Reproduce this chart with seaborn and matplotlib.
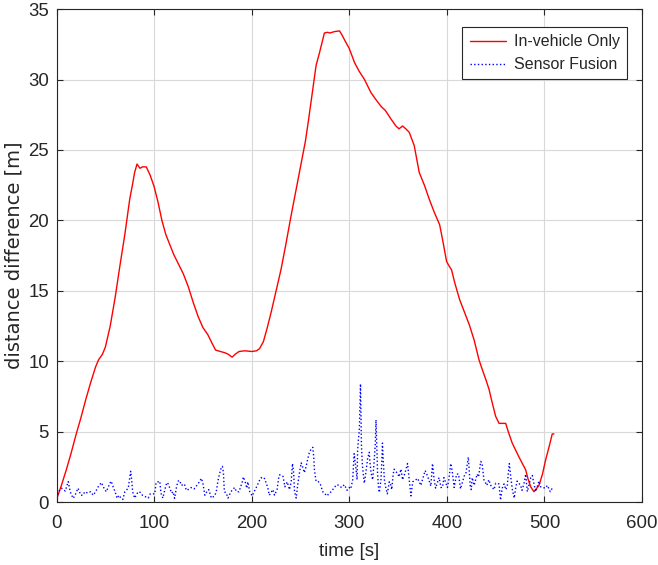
import numpy as np
import pandas as pd
import matplotlib
matplotlib.use("Agg")
import matplotlib.pyplot as plt
import seaborn as sns

# ---- data ----
red_t = [0, 5, 10, 15, 20, 25, 30, 35, 40, 43, 47, 50, 55, 60, 65, 70, 75, 78, 80, 82.5,
         85.5, 88, 92, 96, 100, 104, 108, 112, 116, 120, 125, 130, 135, 140, 145, 150, 155,
         160, 163, 168, 173, 176, 180, 183, 187, 193, 200, 205, 208, 212, 216, 220, 225, 230,
         235, 240, 245, 250, 255, 258, 262, 266, 269.5, 272, 274.5, 277.6, 280, 285, 290, 293,
         296, 300, 305.4, 310, 315.6, 322, 327, 332.5, 337, 342.7, 347.8, 351, 354.6, 358,
         361.5, 366.6, 371.7, 377, 382, 387, 392.6, 396, 399.7, 402, 404.8, 408, 413, 418,
         423, 428, 433, 436.4, 440, 443.3, 446, 450, 453.5, 460.3, 463, 467, 474, 480.8, 483,
         485.9, 489.3, 494.4, 498, 501.2, 505, 508, 509.7]
red_y = [0.2, 1.2, 2.3, 3.5, 4.8, 6.0, 7.3, 8.5, 9.6, 10.1, 10.5, 11.0, 12.5, 14.5, 16.8, 19.0,
         21.5, 22.6, 23.4, 24.0, 23.7, 23.8, 23.8, 23.2, 22.4, 21.3, 20.0, 19.0, 18.3, 17.6,
         16.9, 16.2, 15.3, 14.2, 13.2, 12.4, 11.9, 11.2, 10.8, 10.7, 10.6, 10.5, 10.3, 10.5,
         10.7, 10.75, 10.7, 10.75, 10.9, 11.4, 12.4, 13.5, 15.0, 16.5, 18.3, 20.2, 22.0, 23.8,
         25.6, 27.0, 29.0, 31.0, 31.9, 32.6, 33.3, 33.35, 33.3, 33.4, 33.45, 33.1, 32.7, 32.2,
         31.2, 30.6, 30.0, 29.1, 28.6, 28.1, 27.8, 27.2, 26.7, 26.5, 26.7, 26.5, 26.25, 25.3,
         23.4, 22.5, 21.5, 20.6, 19.7, 18.5, 17.1, 16.8, 16.5, 15.6, 14.4, 13.5, 12.6, 11.5,
         10.1, 9.4, 8.7, 8.0, 7.2, 6.1, 5.6, 5.6, 5.0, 4.2, 3.2, 2.3, 1.7, 1.1, 0.75, 1.2, 2.0,
         3.0, 4.0, 4.85, 4.85]

blue_t = [0, 2, 5, 9, 12, 14, 17, 19, 22, 25, 27, 29, 32, 35, 37.6, 40, 42.7, 46, 49, 51,
          54.7, 56, 58, 60, 62, 64, 66, 68, 70, 73.5, 76, 77, 78, 80, 83.7, 86, 88, 94, 96,
          100.7, 102, 105.8, 107, 109, 111, 113, 114.5, 118, 119.5, 121, 123, 124.6, 126, 128,
          131, 133, 136.5, 138, 141, 145, 148.5, 150, 152, 154, 156, 158.7, 162, 163.7, 165.5,
          167, 169, 170, 171, 171.5, 172, 174, 175.7, 177, 178.7, 182.5, 184.5, 187, 190.4,
          191.5, 193.8, 195, 196, 198, 200.5, 202.5, 204.7, 208, 209.8, 212, 213, 215, 216.6,
          218, 221.7, 223.4, 226, 227.6, 228.6, 232, 233, 234, 236.4, 238.7, 240.5, 241.8, 243,
          243.9, 245.6, 247.2, 249, 250.7, 252, 254, 255.8, 257.5, 259, 261, 262.6, 263.6,
          264.3, 266, 268, 270.5, 272.8, 274.5, 277.2, 279, 281.4, 284.8, 287, 289.5, 292, 295,
          297.7, 300, 301.5, 303.5, 304.5, 305, 307, 308, 308.5, 309.3, 310.3, 311.5, 312.5,
          313.5, 315.4, 317, 318.8, 320.5, 321, 322.3, 324, 324.6, 325.6, 326.7, 327.4, 328.2,
          329, 330, 330.8, 332.5, 333.5, 334, 334.8, 336, 337.5, 339, 341, 342.7, 343.5, 345,
          346, 347.5, 349.5, 351, 353, 354.6, 357, 359.7, 361.4, 363.2, 365, 368.3, 370, 373.4,
          375, 377.8, 380, 381.5, 383.6, 385.3, 387, 388.5, 392, 394, 395.5, 397, 400.6, 402,
          404, 405.5, 407.5, 410, 412, 414, 416, 417.7, 419.5, 421, 422, 424, 425, 426, 428,
          431, 432.5, 434.7, 436, 438, 439.5, 441, 443, 445, 448.4, 450, 453.5, 455, 456.8,
          458.6, 460.5, 462, 463, 464, 465.6, 467, 469, 470.5, 472, 475.6, 477, 479, 480.8,
          482.5, 486, 487.6, 489.3, 491, 494.4, 496, 501, 503, 506, 508]
blue_y = [0.3, 0.75, 1.0, 0.8, 1.47, 0.75, 0.28, 0.5, 1.0, 0.5, 0.5, 0.75, 0.65, 0.75, 0.5,
          0.75, 1.1, 1.4, 0.95, 0.75, 1.35, 1.5, 1.1, 0.75, 0.28, 0.5, 0.3, 0.2, 0.75, 1.0, 2.2,
          1.6, 0.75, 0.3, 0.75, 0.7, 0.5, 0.3, 0.6, 0.6, 1.4, 1.5, 0.65, 0.3, 0.9, 1.4, 1.3,
          0.65, 0.75, 0.28, 1.1, 1.5, 1.55, 1.2, 1.3, 0.85, 0.95, 1.05, 0.95, 1.3, 1.7, 1.35,
          0.5, 0.75, 0.9, 0.3, 0.45, 0.75, 1.55, 2.0, 2.5, 2.55, 2.15, 1.4, 0.75, 0.65, 0.3,
          0.5, 0.75, 1.05, 0.75, 0.75, 1.45, 1.8, 1.35, 1.0, 1.45, 0.75, 0.45, 0.75, 1.05, 1.55,
          1.75, 1.65, 1.7, 1.35, 1.0, 0.5, 0.9, 0.5, 0.9, 1.7, 1.95, 1.85, 1.5, 1.1, 1.45, 0.9,
          1.45, 2.75, 2.1, 0.75, 0.3, 1.25, 2.1, 2.8, 2.55, 2.1, 2.55, 3.1, 3.5, 3.8, 3.9, 3.2,
          2.3, 1.5, 1.5, 1.25, 0.75, 0.65, 0.45, 0.6, 0.75, 1.05, 1.25, 1.2, 1.05, 1.25, 0.85,
          1.05, 0.95, 1.6, 2.9, 3.45, 2.3, 1.6, 3.6, 4.4, 5.1, 8.4, 4.0, 2.6, 1.35, 2.1, 3.1,
          3.55, 3.0, 2.1, 1.6, 2.1, 3.0, 4.2, 5.85, 4.0, 2.1, 1.0, 0.7, 1.6, 3.2, 4.2, 3.0, 1.6,
          1.0, 0.6, 1.45, 1.2, 0.9, 2.0, 2.35, 2.2, 2.05, 1.8, 2.35, 1.6, 2.05, 2.75, 1.6, 0.45,
          1.45, 1.6, 1.7, 1.2, 1.6, 2.25, 1.9, 1.6, 1.15, 2.75, 1.6, 1.0, 1.75, 1.05, 1.05, 1.75,
          1.05, 1.6, 2.75, 2.2, 1.05, 2.0, 2.0, 0.95, 1.45, 1.85, 2.05, 2.75, 3.2, 1.15, 0.9,
          1.75, 1.2, 2.0, 1.8, 2.9, 2.8, 1.6, 1.4, 1.2, 1.6, 1.2, 0.9, 1.35, 1.3, 0.15, 1.0,
          1.3, 0.9, 1.2, 2.1, 2.75, 1.75, 0.95, 0.3, 1.0, 1.5, 1.2, 0.85, 1.3, 2.0, 0.75, 1.75,
          1.9, 1.3, 0.75, 1.5, 1.1, 1.0, 1.2, 0.75, 1.0]

x_ticks = [0, 100, 200, 300, 400, 500, 600]
y_ticks = [0, 5, 10, 15, 20, 25, 30, 35]
x_label = "time [s]"
y_label = "distance difference [m]"
series_names = ["In-vehicle Only", "Sensor Fusion"]

# ---- style ----
sns.set_style("white")
plt.rcParams["font.family"] = ["Liberation Sans", "DejaVu Sans"]

fig = plt.figure(figsize=(6.58, 5.65), dpi=100)
ax = fig.add_axes([0.0859, 0.111, 0.8898, 0.873])

df_red = pd.DataFrame({"t": red_t, "y": red_y})
df_blue = pd.DataFrame({"t": blue_t, "y": blue_y})

sns.lineplot(data=df_red, x="t", y="y", ax=ax, color="#ff0000", linewidth=1.0,
             label=series_names[0], sort=False, estimator=None)
sns.lineplot(data=df_blue, x="t", y="y", ax=ax, color="#0000ff", linewidth=1.0,
             linestyle=":", label=series_names[1], sort=False, estimator=None)

ax.set_xlim(0, 600)
ax.set_ylim(0, 35)
ax.set_xticks(x_ticks)
ax.set_yticks(y_ticks)
ax.set_xticklabels([str(v) for v in x_ticks], fontsize=13.4)
ax.set_yticklabels([str(v) for v in y_ticks], fontsize=13.4)
ax.set_xlabel(x_label, fontsize=13.5, labelpad=8)
ax.set_ylabel(y_label, fontsize=14, labelpad=3, family=["DejaVu Sans"])

ax.grid(True, color="#d9d9d9", linewidth=0.8)
ax.set_axisbelow(True)
for s in ax.spines.values():
    s.set_visible(True)
    s.set_color("#262626")
    s.set_linewidth(0.8)
ax.tick_params(direction="in", length=4, width=0.8, color="#262626",
               top=True, right=True, bottom=True, left=True, labelcolor="#262626")
ax.tick_params(axis="x", pad=9)
ax.tick_params(axis="y", pad=5.5)

leg = ax.legend(loc="upper right", bbox_to_anchor=(0.974, 0.9635), fontsize=11.5,
                frameon=True, fancybox=False, edgecolor="#262626", framealpha=1,
                handlelength=2.3, borderpad=0.45, labelspacing=0.5, handletextpad=0.45,
                borderaxespad=0.0)
leg.get_frame().set_linewidth(0.8)

fig.savefig("out.png", dpi=100)
